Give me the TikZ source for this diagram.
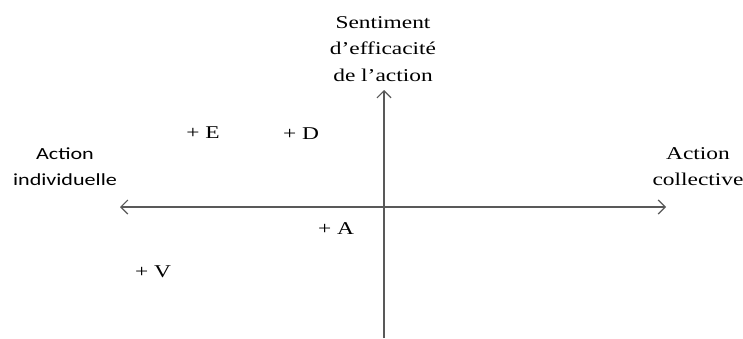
\documentclass[tikz,border=0pt]{standalone}
\usepackage{fontspec}
\setmainfont{Liberation Serif}
\newfontfamily\labsans{Carlito}
\usetikzlibrary{arrows.meta}
\tikzset{
  axis/.style={draw=black!65, line width=1.3pt, -{Straight Barb[length=7pt,width=14pt,line width=1.2pt]}},
  wide/.style={xscale=1.3, transform shape},
  lab/.style={wide, align=center, font=\fontsize{18}{26.5}\selectfont, inner sep=0pt},
  pt/.style={wide, font=\fontsize{18}{21}\selectfont, inner sep=0pt}
}
\begin{document}
\begin{tikzpicture}[x=1pt,y=-1pt]
\useasboundingbox[fill=white] (0,0) rectangle (743,338);
\coordinate (O) at (384,207);
\coordinate (L) at (120,207);
\coordinate (R) at (666,207);
\coordinate (T) at (384,90);
\coordinate (B) at (384,338);
\draw[axis] (O) -- (L);
\draw[axis] (O) -- (R);
\draw[axis] (B) -- (T);
\node[lab] (top) at (383,49) {Sentiment\\d’efficacité\\de l’action};
\node[lab, font=\labsans\fontsize{17}{26}\selectfont] (ind) at (65,167) {Action\\individuelle};
\node[lab, font=\fontsize{18}{26}\selectfont] (col) at (698,167) {Action\\collective};
\node[pt] (E) at (203,133) {+ E};
\node[pt] (D) at (301,134) {+ D};
\node[pt] (A) at (336,229) {+ A};
\node[pt] (V) at (153,272) {+ V};
\end{tikzpicture}
\end{document}
